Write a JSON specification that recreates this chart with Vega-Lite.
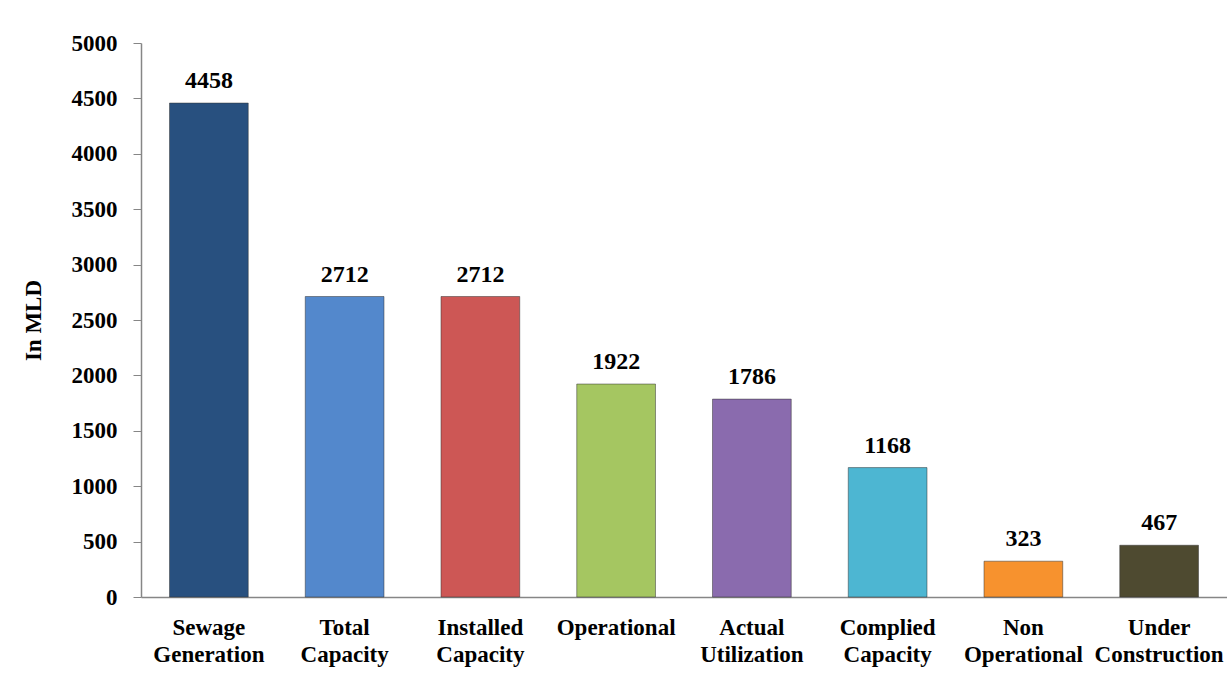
{
  "$schema": "https://vega.github.io/schema/vega-lite/v6.json",
  "width": 1086,
  "height": 554,
  "autosize": {"type": "none"},
  "padding": {"left": 141, "top": 43, "right": 0, "bottom": 103},
  "background": "white",
  "config": {"view": {"stroke": null}, "font": "Times New Roman"},
  "data": {
    "values": [
      {"category": "Sewage Generation", "value": 4458, "color": "#28507F"},
      {"category": "Total Capacity", "value": 2712, "color": "#5388CC"},
      {"category": "Installed Capacity", "value": 2712, "color": "#CD5755"},
      {"category": "Operational", "value": 1922, "color": "#A5C661"},
      {"category": "Actual Utilization", "value": 1786, "color": "#8A6BAE"},
      {"category": "Complied Capacity", "value": 1168, "color": "#4DB6D2"},
      {"category": "Non Operational", "value": 323, "color": "#F7922E"},
      {"category": "Under Construction", "value": 467, "color": "#4E4A30"}
    ]
  },
  "encoding": {
    "x": {
      "field": "category",
      "type": "nominal",
      "sort": null,
      "scale": {"paddingInner": 0.42, "paddingOuter": 0.21},
      "axis": {
        "title": null,
        "labelAngle": 0,
        "ticks": false,
        "domainColor": "#868686",
        "domainWidth": 1.5,
        "labelFont": "Times New Roman",
        "labelFontWeight": "bold",
        "labelFontSize": 23,
        "labelColor": "black",
        "labelPadding": 19,
        "labelBaseline": "top",
        "labelLineHeight": 27,
        "labelLimit": 0,
        "labelExpr": "split(datum.label, ' ')"
      }
    },
    "y": {
      "field": "value",
      "type": "quantitative",
      "scale": {"domain": [0, 5000], "nice": false},
      "axis": {
        "title": "In MLD",
        "format": "d",
        "values": [0, 500, 1000, 1500, 2000, 2500, 3000, 3500, 4000, 4500, 5000],
        "grid": false,
        "domainColor": "#868686",
        "domainWidth": 1.5,
        "tickColor": "#868686",
        "tickSize": 8,
        "labelFont": "Times New Roman",
        "labelFontWeight": "bold",
        "labelFontSize": 23,
        "labelColor": "black",
        "labelPadding": 16,
        "titleFont": "Times New Roman",
        "titleFontWeight": "bold",
        "titleFontSize": 23,
        "titleColor": "black",
        "titlePadding": 26
      }
    }
  },
  "layer": [
    {
      "mark": {"type": "bar", "stroke": "#333333", "strokeOpacity": 0.5, "strokeWidth": 1},
      "encoding": {
        "color": {"field": "color", "type": "nominal", "scale": null, "legend": null}
      }
    },
    {
      "mark": {
        "type": "text",
        "font": "Times New Roman",
        "fontWeight": "bold",
        "fontSize": 24,
        "baseline": "alphabetic",
        "dy": -15,
        "color": "black"
      },
      "encoding": {"text": {"field": "value", "type": "quantitative", "format": "d"}}
    }
  ]
}
